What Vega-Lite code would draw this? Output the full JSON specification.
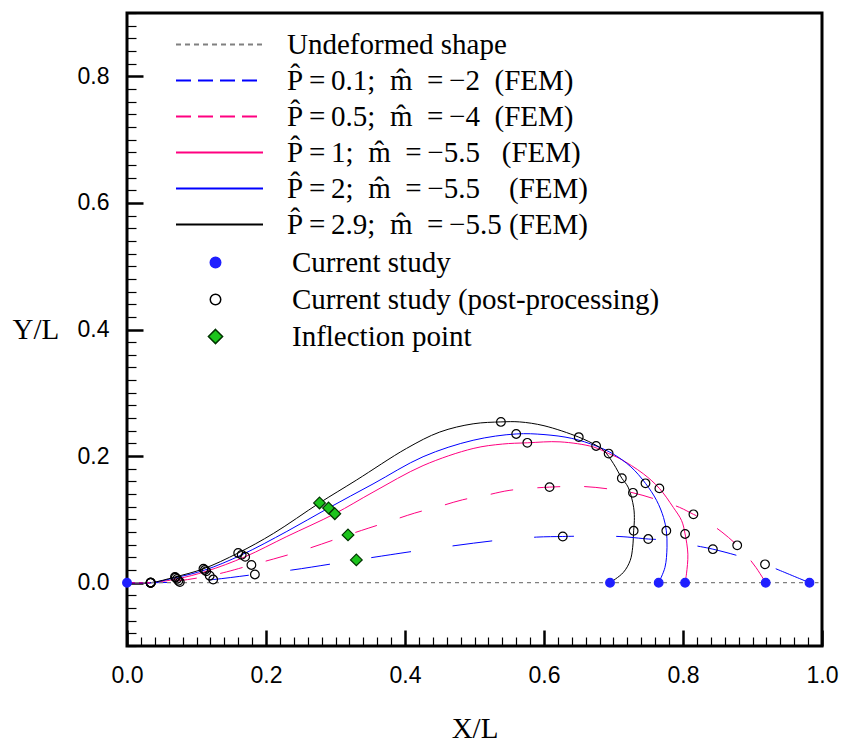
{
  "$schema": "https://vega.github.io/schema/vega-lite/v6.json",
  "width": 695,
  "height": 633,
  "autosize": {"type": "none"},
  "padding": {"left": 127, "top": 13, "right": 19, "bottom": 96},
  "background": "white",
  "config": {
    "font": "Liberation Serif",
    "view": {"stroke": "black", "strokeWidth": 3},
    "legend": {"labelFont": "Liberation Serif", "labelFontSize": 29, "labelColor": "black", "labelLimit": 0},
    "axis": {"grid": false, "domain": false}
  },
  "datasets": {
    "curves": [
      {"s":"U","i":0,"x":0,"y":0},{"s":"U","i":1,"x":0.995,"y":0},
      {"s":"A","i":0,"x":0,"y":0},{"s":"A","i":1,"x":0.034,"y":0},{"s":"A","i":2,"x":0.076,"y":0.001},{"s":"A","i":3,"x":0.124,"y":0.005},{"s":"A","i":4,"x":0.184,"y":0.013},{"s":"A","i":5,"x":0.237,"y":0.02},{"s":"A","i":6,"x":0.294,"y":0.0296},{"s":"A","i":7,"x":0.33,"y":0.036},{"s":"A","i":8,"x":0.354,"y":0.04},{"s":"A","i":9,"x":0.412,"y":0.0496},{"s":"A","i":10,"x":0.472,"y":0.0586},{"s":"A","i":11,"x":0.53,"y":0.0666},{"s":"A","i":12,"x":0.589,"y":0.072},{"s":"A","i":13,"x":0.627,"y":0.073},{"s":"A","i":14,"x":0.647,"y":0.0734},{"s":"A","i":15,"x":0.708,"y":0.073},{"s":"A","i":16,"x":0.75,"y":0.069},{"s":"A","i":17,"x":0.765,"y":0.068},{"s":"A","i":18,"x":0.825,"y":0.057},{"s":"A","i":19,"x":0.843,"y":0.053},{"s":"A","i":20,"x":0.881,"y":0.042},{"s":"A","i":21,"x":0.918,"y":0.029},{"s":"A","i":22,"x":0.938,"y":0.02},{"s":"A","i":23,"x":0.982,"y":0},
      {"s":"B","i":0,"x":0,"y":0},{"s":"B","i":1,"x":0.034,"y":0},{"s":"B","i":2,"x":0.074,"y":0.003},{"s":"B","i":3,"x":0.119,"y":0.011},{"s":"B","i":4,"x":0.143,"y":0.017},{"s":"B","i":5,"x":0.179,"y":0.028},{"s":"B","i":6,"x":0.211,"y":0.0375},{"s":"B","i":7,"x":0.244,"y":0.048},{"s":"B","i":8,"x":0.28,"y":0.061},{"s":"B","i":9,"x":0.318,"y":0.0755},{"s":"B","i":10,"x":0.347,"y":0.086},{"s":"B","i":11,"x":0.378,"y":0.097},{"s":"B","i":12,"x":0.414,"y":0.11},{"s":"B","i":13,"x":0.448,"y":0.12},{"s":"B","i":14,"x":0.483,"y":0.131},{"s":"B","i":15,"x":0.516,"y":0.138},{"s":"B","i":16,"x":0.551,"y":0.146},{"s":"B","i":17,"x":0.608,"y":0.151},{"s":"B","i":18,"x":0.656,"y":0.152},{"s":"B","i":19,"x":0.694,"y":0.148},{"s":"B","i":20,"x":0.728,"y":0.142},{"s":"B","i":21,"x":0.763,"y":0.131},{"s":"B","i":22,"x":0.795,"y":0.119},{"s":"B","i":23,"x":0.815,"y":0.108},{"s":"B","i":24,"x":0.828,"y":0.101},{"s":"B","i":25,"x":0.856,"y":0.08},{"s":"B","i":26,"x":0.878,"y":0.059},{"s":"B","i":27,"x":0.89,"y":0.045},{"s":"B","i":28,"x":0.905,"y":0.024},{"s":"B","i":29,"x":0.919,"y":0},
      {"s":"C","i":0,"x":0,"y":0},{"s":"C","i":1,"x":0.034,"y":0},{"s":"C","i":2,"x":0.072,"y":0.006},{"s":"C","i":3,"x":0.114,"y":0.018},{"s":"C","i":4,"x":0.17,"y":0.041},{"s":"C","i":5,"x":0.23,"y":0.073},{"s":"C","i":6,"x":0.299,"y":0.109},{"s":"C","i":7,"x":0.354,"y":0.143},{"s":"C","i":8,"x":0.426,"y":0.185},{"s":"C","i":9,"x":0.498,"y":0.212},{"s":"C","i":10,"x":0.54,"y":0.219},{"s":"C","i":11,"x":0.576,"y":0.221},{"s":"C","i":12,"x":0.623,"y":0.2225},{"s":"C","i":13,"x":0.671,"y":0.2145},{"s":"C","i":14,"x":0.693,"y":0.204},{"s":"C","i":15,"x":0.709,"y":0.196},{"s":"C","i":16,"x":0.743,"y":0.172},{"s":"C","i":17,"x":0.766,"y":0.149},{"s":"C","i":18,"x":0.786,"y":0.119},{"s":"C","i":19,"x":0.798,"y":0.098},{"s":"C","i":20,"x":0.803,"y":0.077},{"s":"C","i":21,"x":0.807,"y":0.045},{"s":"C","i":22,"x":0.805,"y":0.014},{"s":"C","i":23,"x":0.803,"y":0},
      {"s":"D","i":0,"x":0,"y":0},{"s":"D","i":1,"x":0.034,"y":0},{"s":"D","i":2,"x":0.07,"y":0.008},{"s":"D","i":3,"x":0.112,"y":0.02},{"s":"D","i":4,"x":0.165,"y":0.044},{"s":"D","i":5,"x":0.23,"y":0.081},{"s":"D","i":6,"x":0.29,"y":0.118},{"s":"D","i":7,"x":0.354,"y":0.156},{"s":"D","i":8,"x":0.426,"y":0.199},{"s":"D","i":9,"x":0.498,"y":0.225},{"s":"D","i":10,"x":0.56,"y":0.235},{"s":"D","i":11,"x":0.6,"y":0.234},{"s":"D","i":12,"x":0.64,"y":0.228},{"s":"D","i":13,"x":0.675,"y":0.216},{"s":"D","i":14,"x":0.7,"y":0.203},{"s":"D","i":15,"x":0.725,"y":0.183},{"s":"D","i":16,"x":0.746,"y":0.157},{"s":"D","i":17,"x":0.762,"y":0.13},{"s":"D","i":18,"x":0.772,"y":0.103},{"s":"D","i":19,"x":0.776,"y":0.082},{"s":"D","i":20,"x":0.777,"y":0.056},{"s":"D","i":21,"x":0.774,"y":0.024},{"s":"D","i":22,"x":0.765,"y":0},
      {"s":"E","i":0,"x":0,"y":0},{"s":"E","i":1,"x":0.034,"y":0},{"s":"E","i":2,"x":0.069,"y":0.009},{"s":"E","i":3,"x":0.11,"y":0.022},{"s":"E","i":4,"x":0.16,"y":0.047},{"s":"E","i":5,"x":0.211,"y":0.078},{"s":"E","i":6,"x":0.277,"y":0.126},{"s":"E","i":7,"x":0.33,"y":0.162},{"s":"E","i":8,"x":0.402,"y":0.212},{"s":"E","i":9,"x":0.45,"y":0.238},{"s":"E","i":10,"x":0.498,"y":0.251},{"s":"E","i":11,"x":0.538,"y":0.254},{"s":"E","i":12,"x":0.565,"y":0.254},{"s":"E","i":13,"x":0.6,"y":0.248},{"s":"E","i":14,"x":0.65,"y":0.23},{"s":"E","i":15,"x":0.675,"y":0.217},{"s":"E","i":16,"x":0.686,"y":0.209},{"s":"E","i":17,"x":0.7,"y":0.188},{"s":"E","i":18,"x":0.712,"y":0.165},{"s":"E","i":19,"x":0.721,"y":0.151},{"s":"E","i":20,"x":0.729,"y":0.119},{"s":"E","i":21,"x":0.73,"y":0.098},{"s":"E","i":22,"x":0.729,"y":0.082},{"s":"E","i":23,"x":0.7276,"y":0.056},{"s":"E","i":24,"x":0.724,"y":0.035},{"s":"E","i":25,"x":0.714,"y":0.016},{"s":"E","i":26,"x":0.695,"y":0}
    ],
    "points": [
      {"s":"Current study (post-processing)","x":0.034,"y":0},{"s":"Current study (post-processing)","x":0.069,"y":0.009},{"s":"Current study (post-processing)","x":0.11,"y":0.022},{"s":"Current study (post-processing)","x":0.16,"y":0.047},{"s":"Current study (post-processing)","x":0.538,"y":0.254},{"s":"Current study (post-processing)","x":0.65,"y":0.23},{"s":"Current study (post-processing)","x":0.712,"y":0.165},{"s":"Current study (post-processing)","x":0.729,"y":0.082},
      {"s":"Current study (post-processing)","x":0.034,"y":0},{"s":"Current study (post-processing)","x":0.07,"y":0.008},{"s":"Current study (post-processing)","x":0.112,"y":0.02},{"s":"Current study (post-processing)","x":0.165,"y":0.044},{"s":"Current study (post-processing)","x":0.56,"y":0.235},{"s":"Current study (post-processing)","x":0.675,"y":0.216},{"s":"Current study (post-processing)","x":0.746,"y":0.157},{"s":"Current study (post-processing)","x":0.776,"y":0.082},
      {"s":"Current study (post-processing)","x":0.034,"y":0},{"s":"Current study (post-processing)","x":0.072,"y":0.006},{"s":"Current study (post-processing)","x":0.114,"y":0.018},{"s":"Current study (post-processing)","x":0.17,"y":0.041},{"s":"Current study (post-processing)","x":0.576,"y":0.221},{"s":"Current study (post-processing)","x":0.693,"y":0.204},{"s":"Current study (post-processing)","x":0.766,"y":0.149},{"s":"Current study (post-processing)","x":0.803,"y":0.077},
      {"s":"Current study (post-processing)","x":0.034,"y":0},{"s":"Current study (post-processing)","x":0.074,"y":0.003},{"s":"Current study (post-processing)","x":0.119,"y":0.011},{"s":"Current study (post-processing)","x":0.179,"y":0.028},{"s":"Current study (post-processing)","x":0.608,"y":0.151},{"s":"Current study (post-processing)","x":0.728,"y":0.142},{"s":"Current study (post-processing)","x":0.815,"y":0.108},{"s":"Current study (post-processing)","x":0.878,"y":0.059},
      {"s":"Current study (post-processing)","x":0.034,"y":0},{"s":"Current study (post-processing)","x":0.076,"y":0.001},{"s":"Current study (post-processing)","x":0.124,"y":0.005},{"s":"Current study (post-processing)","x":0.184,"y":0.013},{"s":"Current study (post-processing)","x":0.627,"y":0.073},{"s":"Current study (post-processing)","x":0.75,"y":0.069},{"s":"Current study (post-processing)","x":0.843,"y":0.053},{"s":"Current study (post-processing)","x":0.918,"y":0.029},
      {"s":"Inflection point","x":0.277,"y":0.126},{"s":"Inflection point","x":0.29,"y":0.118},{"s":"Inflection point","x":0.299,"y":0.109},{"s":"Inflection point","x":0.318,"y":0.0755},{"s":"Inflection point","x":0.33,"y":0.036},
      {"s":"Current study","x":0,"y":0},{"s":"Current study","x":0.695,"y":0},{"s":"Current study","x":0.765,"y":0},{"s":"Current study","x":0.803,"y":0},{"s":"Current study","x":0.919,"y":0},{"s":"Current study","x":0.982,"y":0}
    ]
  },
  "encoding": {
    "x": {"field": "x", "type": "quantitative", "scale": {"domain": [0, 1], "nice": false, "zero": false},
      "axis": {
        "values": [0,0.02,0.04,0.06,0.08,0.1,0.12,0.14,0.16,0.18,0.2,0.22,0.24,0.26,0.28,0.3,0.32,0.34,0.36,0.38,0.4,0.42,0.44,0.46,0.48,0.5,0.52,0.54,0.56,0.58,0.6,0.62,0.64,0.66,0.68,0.7,0.72,0.74,0.76,0.78,0.8,0.82,0.84,0.86,0.88,0.9,0.92,0.94,0.96,0.98,1],
        "labelExpr": "abs(datum.value*5 - round(datum.value*5)) < 0.001 ? format(datum.value, '.1f') : ''",
        "tickSize": {"condition": {"test": "abs(datum.value*5 - round(datum.value*5)) < 0.001", "value": -16}, "value": -9},
        "tickWidth": {"condition": {"test": "abs(datum.value*5 - round(datum.value*5)) < 0.001", "value": 2.5}, "value": 1.2},
        "tickColor": "black",
        "labelFont": "Liberation Sans", "labelFontSize": 23, "labelColor": "black",
        "labelPadding": 34, "labelFlush": false, "labelOverlap": false,
        "title": "X/L", "titleFont": "Liberation Serif", "titleFontSize": 29, "titleFontWeight": "normal", "titleColor": "black",
        "titleY": 82, "titleBaseline": "middle"
      }},
    "y": {"field": "y", "type": "quantitative", "scale": {"domain": [-0.1, 0.9], "nice": false, "zero": false},
      "axis": {
        "values": [-0.1,-0.08,-0.06,-0.04,-0.02,0,0.02,0.04,0.06,0.08,0.1,0.12,0.14,0.16,0.18,0.2,0.22,0.24,0.26,0.28,0.3,0.32,0.34,0.36,0.38,0.4,0.42,0.44,0.46,0.48,0.5,0.52,0.54,0.56,0.58,0.6,0.62,0.64,0.66,0.68,0.7,0.72,0.74,0.76,0.78,0.8,0.82,0.84,0.86,0.88,0.9],
        "labelExpr": "abs(datum.value*5 - round(datum.value*5)) < 0.001 ? format(datum.value, '.1f') : ''",
        "tickSize": {"condition": {"test": "abs(datum.value*5 - round(datum.value*5)) < 0.001", "value": -16}, "value": -9},
        "tickWidth": {"condition": {"test": "abs(datum.value*5 - round(datum.value*5)) < 0.001", "value": 2.5}, "value": 1.2},
        "tickColor": "black",
        "labelFont": "Liberation Sans", "labelFontSize": 23, "labelColor": "black",
        "labelPadding": 34, "labelFlush": false, "labelOverlap": false,
        "title": "Y/L", "titleFont": "Liberation Serif", "titleFontSize": 29, "titleFontWeight": "normal", "titleColor": "black",
        "titleAngle": 0, "titleAlign": "left", "titleBaseline": "middle", "titleX": -115, "titleY": 316
      }}
  },
  "layer": [
    {
      "data": {"name": "curves"},
      "layer": [
        {
          "transform": [{"filter": {"field": "s", "oneOf": ["C", "D", "E"]}}],
          "mark": {"type": "line", "strokeWidth": 1, "interpolate": "catmull-rom"},
          "encoding": {
            "order": {"field": "i", "type": "quantitative"},
            "stroke": {"field": "s", "type": "nominal",
              "scale": {"domain": ["U", "A", "B", "C", "D", "E"], "range": ["#808080", "#0000ff", "#ff0080", "#ff0080", "#0000ff", "#000000"]},
              "legend": {"title": null, "orient": "none", "legendX": 48, "legendY": 17, "symbolType": "stroke", "symbolSize": 7569, "symbolStrokeWidth": 1.8, "labelOffset": 23, "rowPadding": 6, "clipHeight": 29,
                "labelFont": "Liberation Serif", "labelFontSize": 29, "labelColor": "black", "labelLimit": 0,
                "labelExpr": "datum.label == 'U' ? 'Undeformed shape' : datum.label == 'A' ? 'P\u0302\u2009=\u20090.1;\u00a0 m\u0302\u00a0\u00a0=\u2009\u22122\u00a0\u00a0(FEM)' : datum.label == 'B' ? 'P\u0302\u2009=\u20090.5;\u00a0 m\u0302\u00a0\u00a0=\u2009\u22124\u00a0\u00a0(FEM)' : datum.label == 'C' ? 'P\u0302\u2009=\u20091;\u00a0 m\u0302\u00a0\u00a0=\u2009\u22125.5\u00a0\u00a0\u00a0(FEM)' : datum.label == 'D' ? 'P\u0302\u2009=\u20092;\u00a0 m\u0302\u00a0\u00a0=\u2009\u22125.5\u00a0\u00a0\u00a0\u00a0(FEM)' : 'P\u0302\u2009=\u20092.9;\u00a0 m\u0302\u00a0\u00a0=\u2009\u22125.5\u00a0(FEM)'"}}
          }
        },
        {
          "transform": [{"filter": {"field": "s", "equal": "A"}}],
          "mark": {"type": "line", "strokeWidth": 1, "strokeDash": [40, 42], "interpolate": "catmull-rom"},
          "encoding": {
            "order": {"field": "i", "type": "quantitative"},
            "stroke": {"field": "s", "type": "nominal"}
          }
        },
        {
          "transform": [{"filter": {"field": "s", "equal": "B"}}],
          "mark": {"type": "line", "strokeWidth": 1, "strokeDash": [23, 24], "interpolate": "catmull-rom"},
          "encoding": {
            "order": {"field": "i", "type": "quantitative"},
            "stroke": {"field": "s", "type": "nominal"}
          }
        },
        {
          "transform": [{"filter": {"field": "s", "equal": "U"}}],
          "mark": {"type": "line", "strokeWidth": 1.2, "strokeDash": [4, 4]},
          "encoding": {
            "order": {"field": "i", "type": "quantitative"},
            "stroke": {"field": "s", "type": "nominal"}
          }
        },
        {
          "mark": {"type": "line", "opacity": 0},
          "encoding": {
            "order": {"field": "i", "type": "quantitative"},
            "stroke": {"field": "s", "type": "nominal"},
            "strokeDash": {"field": "s", "type": "nominal",
              "scale": {"domain": ["U", "A", "B", "C", "D", "E"], "range": [[5, 4], [15, 7], [15, 7], [1, 0], [1, 0], [1, 0]]}}
          }
        }
      ]
    },
    {
      "data": {"name": "points"},
      "mark": {"type": "point", "size": 75, "strokeWidth": 1.2, "opacity": 1},
      "encoding": {
        "fill": {"field": "s", "type": "nominal",
          "scale": {"domain": ["Current study", "Current study (post-processing)", "Inflection point"], "range": ["#1f1fff", "transparent", "#1cc41c"]},
          "legend": {"title": null, "orient": "none", "legendX": 74, "legendY": 235, "symbolSize": 110, "symbolStrokeWidth": 1.5, "labelOffset": 62, "rowPadding": 7, "clipHeight": 29,
            "labelFont": "Liberation Serif", "labelFontSize": 29, "labelColor": "black", "labelLimit": 0}},
        "stroke": {"field": "s", "type": "nominal",
          "scale": {"domain": ["Current study", "Current study (post-processing)", "Inflection point"], "range": ["#1f1fff", "#000000", "#003300"]}},
        "shape": {"field": "s", "type": "nominal",
          "scale": {"domain": ["Current study", "Current study (post-processing)", "Inflection point"], "range": ["circle", "circle", "M0,-1.35L1.35,0L0,1.35L-1.35,0Z"]}}
      }
    }
  ],
  "resolve": {"scale": {"stroke": "independent", "strokeDash": "independent", "fill": "independent", "shape": "independent"}}
}
